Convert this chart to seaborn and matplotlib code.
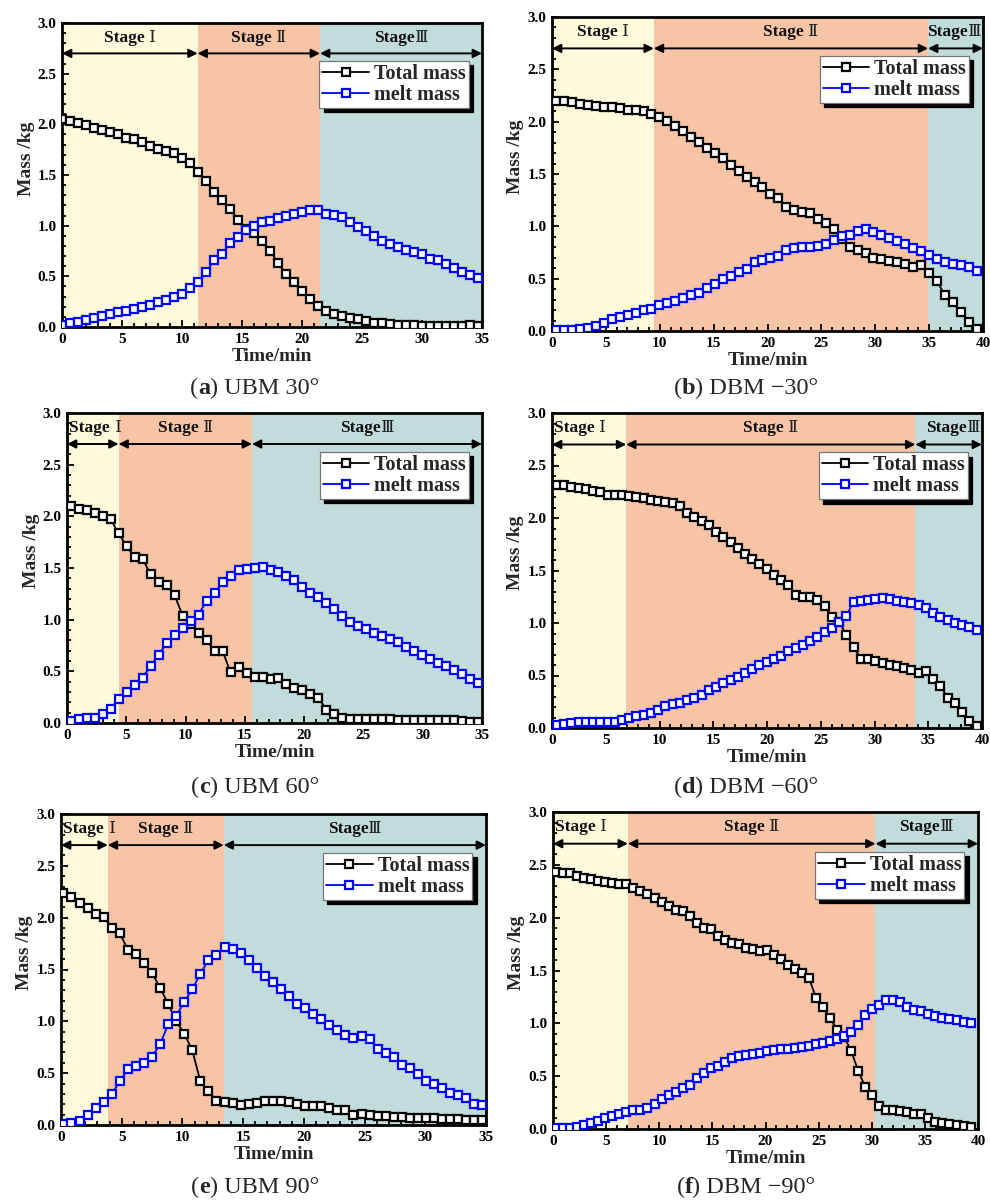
import numpy as np
import pandas as pd
import matplotlib
matplotlib.use("Agg")
import matplotlib.pyplot as plt
import seaborn as sns
from matplotlib.ticker import MultipleLocator, FormatStrFormatter
from matplotlib.offsetbox import TextArea, HPacker, AnchoredOffsetbox

# ---------------- data ----------------
panel_ids = ["a", "b", "c", "d", "e", "f"]
panel_names = ["UBM 30°", "DBM \u221230°", "UBM 60°", "DBM \u221260°", "UBM 90°", "DBM \u221290°"]
x_max = [35, 40, 35, 40, 35, 40]

# sampling window (first / last recorded minute) for each run
t_first = [0.0, 0.4, 0.3, 0.45, 0.2, 0.3]
t_last = [34.7, 39.4, 34.7, 39.5, 34.7, 39.3]

# stage boundaries (min): end of stage I, end of stage II
stage1_end = [11.3, 9.45, 4.35, 6.9, 3.85, 7.05]
stage2_end = [21.5, 34.9, 15.6, 33.8, 13.4, 30.35]
stage_words = ["Stage ", "Stage ", "Stage"]
stage_numerals = ["\u2160", "\u2161", "\u2162"]

total_a = [2.05, 2.03, 2.01, 1.99, 1.96, 1.94, 1.92, 1.90, 1.87, 1.86,
           1.83, 1.79, 1.76, 1.74, 1.72, 1.67, 1.62, 1.53, 1.44, 1.33,
           1.25, 1.16, 1.06, 0.97, 0.93, 0.85, 0.75, 0.63, 0.52, 0.44,
           0.36, 0.28, 0.21, 0.16, 0.13, 0.11, 0.09, 0.08, 0.06, 0.04,
           0.04, 0.03, 0.02, 0.02, 0.02, 0.01, 0.01, 0.01, 0.01, 0.01,
           0.01, 0.02, 0.01]
melt_a = [0.02, 0.04, 0.05, 0.07, 0.09, 0.11, 0.13, 0.15, 0.16, 0.18,
          0.20, 0.22, 0.25, 0.27, 0.30, 0.33, 0.38, 0.44, 0.54, 0.66,
          0.72, 0.83, 0.89, 0.96, 1.00, 1.04, 1.05, 1.08, 1.10, 1.12,
          1.13, 1.15, 1.15, 1.12, 1.11, 1.09, 1.04, 0.99, 0.95, 0.90,
          0.85, 0.82, 0.79, 0.76, 0.74, 0.72, 0.67, 0.66, 0.62, 0.58,
          0.54, 0.51, 0.48]

total_b = [2.20, 2.20, 2.19, 2.17, 2.16, 2.15, 2.14, 2.14, 2.13, 2.11,
           2.11, 2.10, 2.07, 2.04, 2.01, 1.96, 1.91, 1.85, 1.81, 1.75,
           1.70, 1.65, 1.59, 1.53, 1.47, 1.42, 1.38, 1.31, 1.27, 1.18,
           1.16, 1.14, 1.13, 1.07, 1.03, 0.97, 0.88, 0.80, 0.77, 0.75,
           0.70, 0.69, 0.67, 0.66, 0.64, 0.61, 0.63, 0.55, 0.48, 0.34,
           0.28, 0.18, 0.09, 0.02]
melt_b = [0.01, 0.01, 0.01, 0.02, 0.03, 0.05, 0.08, 0.11, 0.13, 0.15,
          0.17, 0.20, 0.21, 0.25, 0.27, 0.29, 0.32, 0.34, 0.36, 0.41,
          0.45, 0.50, 0.53, 0.56, 0.59, 0.66, 0.68, 0.70, 0.72, 0.77,
          0.79, 0.80, 0.80, 0.81, 0.83, 0.87, 0.91, 0.92, 0.96, 0.97,
          0.95, 0.92, 0.89, 0.86, 0.83, 0.79, 0.76, 0.73, 0.69, 0.66,
          0.64, 0.63, 0.61, 0.57]

total_c = [2.10, 2.07, 2.06, 2.03, 2.00, 1.97, 1.84, 1.71, 1.61, 1.59,
           1.44, 1.36, 1.34, 1.24, 1.04, 0.96, 0.87, 0.80, 0.70, 0.70,
           0.49, 0.54, 0.48, 0.45, 0.45, 0.43, 0.44, 0.38, 0.34, 0.32,
           0.28, 0.24, 0.13, 0.09, 0.05, 0.04, 0.04, 0.04, 0.04, 0.035,
           0.035, 0.03, 0.03, 0.03, 0.03, 0.03, 0.03, 0.03, 0.025, 0.02,
           0.01, 0.01]
melt_c = [0.02, 0.04, 0.05, 0.05, 0.09, 0.14, 0.23, 0.30, 0.37, 0.44,
          0.55, 0.66, 0.77, 0.85, 0.92, 0.99, 1.05, 1.18, 1.26, 1.36,
          1.42, 1.48, 1.49, 1.50, 1.51, 1.48, 1.46, 1.42, 1.38, 1.32,
          1.26, 1.22, 1.16, 1.10, 1.04, 0.98, 0.94, 0.91, 0.87, 0.84,
          0.81, 0.78, 0.74, 0.70, 0.66, 0.62, 0.58, 0.55, 0.51, 0.47,
          0.43, 0.39]

total_d = [2.31, 2.31, 2.30, 2.29, 2.28, 2.26, 2.25, 2.22, 2.22, 2.22,
           2.21, 2.20, 2.19, 2.17, 2.16, 2.15, 2.14, 2.11, 2.05, 2.01,
           1.97, 1.93, 1.87, 1.82, 1.77, 1.71, 1.66, 1.61, 1.56, 1.51,
           1.46, 1.41, 1.36, 1.27, 1.25, 1.25, 1.22, 1.16, 1.06, 1.01,
           0.89, 0.77, 0.66, 0.66, 0.64, 0.62, 0.60, 0.59, 0.57, 0.55,
           0.52, 0.54, 0.47, 0.40, 0.29, 0.24, 0.15, 0.07, 0.02]
melt_d = [0.03, 0.04, 0.05, 0.06, 0.06, 0.06, 0.06, 0.06, 0.06, 0.08,
          0.10, 0.11, 0.12, 0.14, 0.17, 0.21, 0.23, 0.24, 0.27, 0.29,
          0.31, 0.36, 0.39, 0.43, 0.46, 0.49, 0.52, 0.56, 0.60, 0.63,
          0.66, 0.69, 0.73, 0.76, 0.79, 0.83, 0.87, 0.91, 0.95, 1.01,
          1.07, 1.20, 1.21, 1.22, 1.23, 1.24, 1.23, 1.21, 1.20, 1.19,
          1.17, 1.14, 1.10, 1.06, 1.03, 1.00, 0.98, 0.96, 0.93]

total_e = [2.24, 2.20, 2.14, 2.09, 2.04, 2.01, 1.90, 1.85, 1.69, 1.65,
           1.56, 1.47, 1.32, 1.17, 1.00, 0.88, 0.72, 0.42, 0.33, 0.23,
           0.22, 0.21, 0.19, 0.20, 0.21, 0.23, 0.23, 0.23, 0.22, 0.20,
           0.18, 0.18, 0.18, 0.16, 0.14, 0.14, 0.10, 0.11, 0.10, 0.09,
           0.09, 0.08, 0.08, 0.07, 0.07, 0.07, 0.07, 0.06, 0.06, 0.06,
           0.05, 0.05, 0.05]
melt_e = [0.01, 0.02, 0.04, 0.10, 0.16, 0.22, 0.30, 0.42, 0.54, 0.57,
          0.60, 0.66, 0.78, 0.97, 1.05, 1.19, 1.31, 1.46, 1.59, 1.64,
          1.72, 1.70, 1.66, 1.59, 1.51, 1.44, 1.38, 1.31, 1.24, 1.17,
          1.13, 1.07, 1.02, 0.96, 0.92, 0.87, 0.84, 0.86, 0.83, 0.73,
          0.69, 0.66, 0.58, 0.55, 0.49, 0.42, 0.40, 0.36, 0.31, 0.29,
          0.26, 0.20, 0.19]

total_f = [2.43, 2.42, 2.42, 2.39, 2.38, 2.37, 2.35, 2.34, 2.33, 2.32,
           2.32, 2.28, 2.25, 2.22, 2.19, 2.15, 2.11, 2.07, 2.06, 2.02,
           1.95, 1.90, 1.89, 1.83, 1.79, 1.76, 1.75, 1.71, 1.70, 1.68,
           1.69, 1.65, 1.61, 1.55, 1.51, 1.48, 1.43, 1.24, 1.15, 1.05,
           0.94, 0.87, 0.74, 0.55, 0.40, 0.32, 0.22, 0.18, 0.18, 0.17,
           0.16, 0.14, 0.14, 0.10, 0.07, 0.06, 0.05, 0.04, 0.03, 0.02]
melt_f = [0.01, 0.01, 0.01, 0.02, 0.04, 0.06, 0.08, 0.10, 0.12, 0.14,
          0.16, 0.18, 0.18, 0.20, 0.24, 0.28, 0.32, 0.35, 0.39, 0.42,
          0.48, 0.53, 0.58, 0.60, 0.63, 0.67, 0.69, 0.70, 0.71, 0.72,
          0.74, 0.75, 0.76, 0.76, 0.77, 0.78, 0.79, 0.80, 0.81, 0.83,
          0.85, 0.88, 0.92, 0.98, 1.08, 1.14, 1.17, 1.22, 1.22, 1.20,
          1.15, 1.13, 1.12, 1.09, 1.07, 1.05, 1.04, 1.03, 1.01, 1.00]

totals = [total_a, total_b, total_c, total_d, total_e, total_f]
melts = [melt_a, melt_b, melt_c, melt_d, melt_e, melt_f]

# ---------------- style ----------------
sns.set_theme(style="ticks")
serif = ["Liberation Serif", "DejaVu Serif"]
plt.rcParams["font.family"] = serif
plt.rcParams["font.weight"] = "bold"
plt.rcParams["axes.labelweight"] = "bold"

stage_colors = ["#FDFBDC", "#F7C4A5", "#C1DCDA"]
W, H = 990, 1202
fig = plt.figure(figsize=(W / 100, H / 100), dpi=100)
fig.patch.set_facecolor("white")

# axes boxes in pixels: left, right, top, bottom
boxes = [(62, 482, 23, 327), (552, 983, 17, 331),
         (67, 482, 413, 723), (552, 982, 413, 728),
         (61, 486, 814, 1125), (553, 978, 812, 1129)]
caption_xy = [(255, 388), (746, 388), (255, 787), (746, 787), (255, 1187), (746, 1187)]
loc_for_ha = {"center": "center", "left": "center left", "right": "center right"}

for i in range(6):
    l, r, t, b = boxes[i]
    ax = fig.add_axes([l / W, 1 - b / H, (r - l) / W, (b - t) / H])
    xm = x_max[i]
    n = len(totals[i])
    time = np.linspace(t_first[i], t_last[i], n)
    df = pd.DataFrame({"time": time, "total": totals[i], "melt": melts[i]})

    bounds = [0, stage1_end[i], stage2_end[i], xm]
    for k in range(3):
        ax.axvspan(bounds[k], bounds[k + 1], color=stage_colors[k], lw=0, zorder=0)

    common = dict(marker="s", markersize=6.2, markerfacecolor="white",
                  markeredgewidth=1.6, linewidth=1.3, ax=ax, zorder=3)
    sns.lineplot(data=df, x="time", y="total", color="black",
                 markeredgecolor="black", label="Total mass", **common)
    sns.lineplot(data=df, x="time", y="melt", color="#0000FF",
                 markeredgecolor="#0000FF", label="melt mass", **common)

    # stage arrows and names
    for k in range(3):
        x0, x1 = bounds[k], bounds[k + 1]
        ax.annotate("", xy=(x1, 2.7), xytext=(x0, 2.7),
                    arrowprops=dict(arrowstyle="<|-|>", color="black", lw=1.4,
                                    mutation_scale=13, shrinkA=0, shrinkB=0),
                    zorder=4)
        width = x1 - x0
        if width >= 7.5:
            tx, ha = (x0 + x1) / 2, "center"
        elif k == 0:
            tx, ha = x0 + 0.2, "left"
        else:
            tx, ha = x1 - 0.15, "right"
        label = HPacker(children=[
            TextArea(stage_words[k], textprops=dict(size=12.5, family=serif,
                                                    weight="bold", color="#111111")),
            TextArea(stage_numerals[k], textprops=dict(size=12.5, family=["DejaVu Serif"],
                                                       weight="normal", color="#222222"))],
            align="baseline", pad=0, sep=0)
        stage_box = AnchoredOffsetbox(loc=loc_for_ha[ha], child=label, frameon=False,
                                      pad=0, borderpad=0, bbox_to_anchor=(tx, 2.86),
                                      bbox_transform=ax.transData)
        stage_box.set_zorder(4)
        ax.add_artist(stage_box)

    ax.set_xlim(0, xm)
    ax.set_ylim(0, 3.0)
    ax.xaxis.set_major_locator(MultipleLocator(5))
    ax.xaxis.set_minor_locator(MultipleLocator(1))
    ax.yaxis.set_major_locator(MultipleLocator(0.5))
    ax.yaxis.set_minor_locator(MultipleLocator(0.1))
    ax.yaxis.set_major_formatter(FormatStrFormatter("%.1f"))
    ax.tick_params(which="both", direction="in", top=False, right=False,
                   width=1.3, labelsize=11, colors="black")
    ax.tick_params(which="major", length=5)
    ax.tick_params(which="minor", length=3)
    ax.tick_params(axis="x", pad=4)
    ax.tick_params(axis="y", pad=4)
    for lab in ax.get_xticklabels() + ax.get_yticklabels():
        lab.set_fontweight("bold")
    for sp in ax.spines.values():
        sp.set_linewidth(2.0)
        sp.set_color("black")

    ax.set_xlabel("Time/min", fontsize=14, fontweight="bold", labelpad=2)
    ax.set_ylabel("Mass /kg", fontsize=14, fontweight="bold")
    ax.yaxis.set_label_coords(-0.065, 0.555)

    leg = ax.legend(loc="upper right", bbox_to_anchor=(0.968, 0.875),
                    borderaxespad=0, fontsize=14.5, frameon=True, fancybox=False,
                    handlelength=2.3, handletextpad=0.25, labelspacing=0.05,
                    borderpad=0.15,
                    shadow={"ox": 3, "oy": -3, "color": "black", "alpha": 1})
    leg.get_frame().set_edgecolor("#777777")
    leg.get_frame().set_linewidth(0.9)
    leg.get_frame().set_facecolor("white")
    leg.get_frame().set_alpha(1)
    leg.set_zorder(5)
    for txt in leg.get_texts():
        txt.set_fontweight("bold")

    # caption below each panel
    cap_size = 17.5
    parts = [TextArea("(", textprops=dict(size=cap_size, family=serif, weight="normal")),
             TextArea(panel_ids[i], textprops=dict(size=cap_size, family=serif, weight="bold")),
             TextArea(") " + panel_names[i], textprops=dict(size=cap_size, family=serif, weight="normal"))]
    pack = HPacker(children=parts, align="baseline", pad=0, sep=0)
    cx, cy = caption_xy[i]
    anch = AnchoredOffsetbox(loc="center", child=pack, frameon=False, pad=0, borderpad=0,
                             bbox_to_anchor=(cx / W, 1 - cy / H),
                             bbox_transform=fig.transFigure)
    fig.add_artist(anch)

fig.savefig("out.png", dpi=100, facecolor="white")
